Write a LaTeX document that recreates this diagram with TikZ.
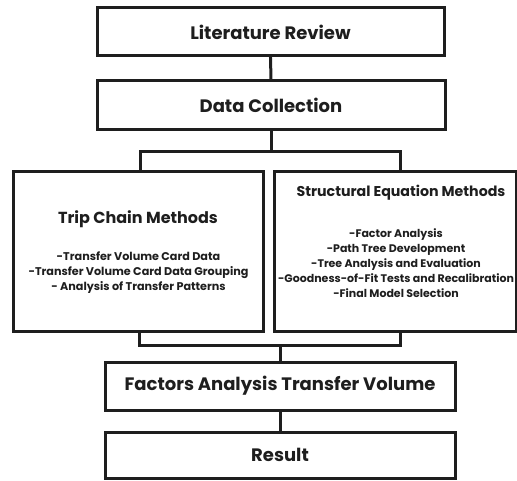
\documentclass[tikz,border=0pt]{standalone}
\usepackage{fontspec}
\setmainfont{Poppins}
\definecolor{ink}{HTML}{1E1E1E}
\begin{document}
\begin{tikzpicture}[x=1pt,y=-1pt,
  box/.style={draw=ink,line width=3pt,rectangle,fill=white,inner sep=0pt,text=ink,font=\bfseries,align=center},
  big/.style={font=\bfseries\fontsize{18}{21}\selectfont},
  conn/.style={draw=ink,line width=3pt,line cap=rect}]
\useasboundingbox (0,0) rectangle (517,481);
\node[box,big,minimum width=347pt,minimum height=48pt] (lit) at (270.5,32) {Literature Review};
\node[box,big,minimum width=348pt,minimum height=49pt] (dc) at (271,105.5) {Data Collection};
\node[box,minimum width=250pt,minimum height=159pt] (trip) at (138,251.5) {};
\node[box,minimum width=242pt,minimum height=159pt] (sem) at (395,251.5) {};
\node[box,big,minimum width=350pt,minimum height=48pt] (fav) at (280,386) {Factors Analysis Transfer Volume};
\node[box,big,minimum width=350pt,minimum height=46pt] (res) at (280,455) {Result};
% texts inside the method boxes
\node[text=ink,font=\bfseries\fontsize{16}{19}\selectfont] (tript) at (138,219) {Trip Chain Methods};
\node[text=ink,font=\bfseries\fontsize{11.2}{15}\selectfont,align=center] (tripl) at (138.5,273) {-Transfer Volume Card Data\\-Transfer Volume Card Data Grouping\\- Analysis of Transfer Patterns};
\node[text=ink,font=\bfseries\fontsize{14.2}{17}\selectfont] (semt) at (401,193) {Structural Equation Methods};
\node[text=ink,font=\bfseries\fontsize{11}{15}\selectfont,align=center] (seml) at (396,263) {-Factor Analysis\\-Path Tree Development\\-Tree Analysis and Evaluation\\-Goodness-of-Fit Tests and Recalibration\\-Final Model Selection};
% connectors
\coordinate (topL) at (140,152);
\coordinate (topR) at (400,152);
\coordinate (botL) at (139,345);
\coordinate (botR) at (400,345);
\draw[conn] (lit.south) -- (dc.north);
\draw[conn] (dc.south) -- (dc.south |- topL);
\draw[conn] (trip.north -| topL) -- (topL) -- (topR) -- (sem.north -| topR);
\draw[conn] (trip.south -| botL) -- (botL) -- (botR) -- (sem.south -| botR);
\draw[conn] (fav.north |- botL) -- (fav.north);
\draw[conn] (fav.south) -- (res.north);
\end{tikzpicture}
\end{document}
